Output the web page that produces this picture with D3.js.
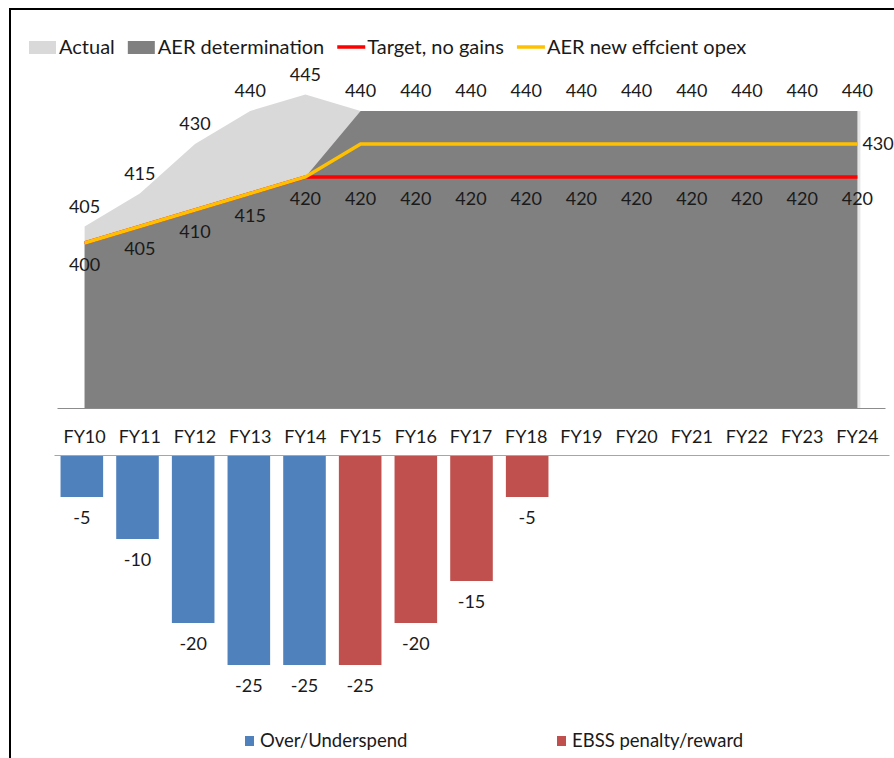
<!DOCTYPE html>
<html>
<head>
<meta charset="utf-8">
<script src="https://cdn.jsdelivr.net/npm/d3@7"></script>
<style>
  body { margin: 0; background: #fff; }
  svg { display: block; font-family: Lato, "Open Sans", sans-serif; }
</style>
</head>
<body>
<div id="chart"></div>
<script>
const years = ["FY10", "FY11", "FY12", "FY13", "FY14", "FY15", "FY16", "FY17", "FY18", "FY19", "FY20", "FY21", "FY22", "FY23", "FY24"];
const actual = [405, 415, 430, 440, 445, 440];
const aer = [400, 405, 410, 415, 420, 440, 440, 440, 440, 440, 440, 440, 440, 440, 440];
const target = [400, 405, 410, 415, 420, 420, 420, 420, 420, 420, 420, 420, 420, 420, 420];
const efficient = [400, 405, 410, 415, 420, 430, 430, 430, 430, 430, 430, 430, 430, 430, 430];
const overUnder = [-5, -10, -20, -25, -25, null, null, null, null, null, null, null, null, null, null];
const ebss = [null, null, null, null, null, -25, -20, -15, -5, null, null, null, null, null, null];

const width = 894;
const height = 758;
const svg = d3.select("#chart").append("svg").attr("width", width).attr("height", height);

// frame (only top and left edges show)
svg.append("rect").attr("x", 10).attr("y", 9).attr("width", 900).attr("height", 800)
  .attr("fill", "none").attr("stroke", "#000").attr("stroke-width", 2);

const x = d3.scaleBand().domain(years).range([57, 885]);
const cx = d => x(d) + x.bandwidth() / 2;
const y = d3.scaleLinear().domain([350, 440]).range([408, 111]);

const area = d3.area().x((d, i) => cx(years[i])).y0(y(350)).y1(d => y(d));
const line = d3.line().x((d, i) => cx(years[i])).y(d => y(d));

svg.append("path").datum(actual).attr("d", area).attr("fill", "#d9d9d9");
// faint edge shadow like the original
svg.append("path").datum(aer).attr("d", area).attr("fill", "#e6e6e6").attr("transform", "translate(3,0)");
svg.append("path").datum(aer).attr("d", area).attr("fill", "#808080");
svg.append("path").datum(target).attr("d", line).attr("fill", "none").attr("stroke", "#ff0000").attr("stroke-width", 3.5);
svg.append("path").datum(efficient).attr("d", line).attr("fill", "none").attr("stroke", "#ffc000").attr("stroke-width", 3.5);

// category axis under the area chart
const xAxis = svg.append("g").attr("transform", `translate(0,${y(350)})`)
  .call(d3.axisBottom(x).tickSize(0).tickPadding(22));
xAxis.select(".domain").attr("stroke", "#8c8c8c");
xAxis.selectAll("text").attr("font-size", 18).attr("fill", "#1a1a1a").attr("font-family", "Lato, sans-serif");

// data labels
const lbl = svg.append("g").attr("font-size", 18).attr("fill", "#1a1a1a").attr("text-anchor", "middle");
actual.forEach((v, i) => {
  if (v !== aer[i]) lbl.append("text").attr("x", cx(years[i])).attr("y", y(v) - 20).attr("dy", "0.35em").text(v);
});
aer.forEach((v, i) => {
  if (v !== target[i]) lbl.append("text").attr("x", cx(years[i])).attr("y", y(v) - 20).attr("dy", "0.35em").text(v);
});
target.forEach((v, i) => {
  lbl.append("text").attr("x", cx(years[i])).attr("y", y(v) + 22).attr("dy", "0.35em").text(v);
});
const last = efficient.length - 1;
lbl.append("text").attr("x", cx(years[last]) + 5).attr("y", y(efficient[last])).attr("dy", "0.35em")
  .attr("text-anchor", "start").text(efficient[last]);

// bar chart
const xb = d3.scaleBand().domain(years).range([54, 889]).paddingInner(0.235).paddingOuter(0.1175);
const yb = d3.scaleLinear().domain([-25, 0]).range([665, 455]);

const bars = [
  { name: "Over/Underspend", color: "#4f81bd", values: overUnder },
  { name: "EBSS penalty/reward", color: "#c0504d", values: ebss }
];

bars.forEach(s => {
  const pts = s.values.map((v, i) => ({ year: years[i], v })).filter(d => d.v !== null);
  svg.append("g").selectAll("rect").data(pts).enter().append("rect")
    .attr("x", d => xb(d.year)).attr("width", xb.bandwidth())
    .attr("y", yb(0)).attr("height", d => yb(d.v) - yb(0))
    .attr("fill", s.color);
  svg.append("g").attr("font-size", 18).attr("fill", "#1a1a1a").attr("text-anchor", "middle")
    .selectAll("text").data(pts).enter().append("text")
    .attr("x", d => xb(d.year) + xb.bandwidth() / 2).attr("y", d => yb(d.v) + 21).attr("dy", "0.35em")
    .text(d => d.v);
});

const barAxis = svg.append("g").attr("transform", `translate(0,${yb(0)})`)
  .call(d3.axisBottom(xb).tickSize(0).tickFormat(""));
barAxis.select(".domain").attr("stroke", "#a6a6a6");

// top legend
const legendTop = [
  { name: "Actual", color: "#d9d9d9", type: "box" },
  { name: "AER determination", color: "#808080", type: "box" },
  { name: "Target, no gains", color: "#ff0000", type: "line" },
  { name: "AER new effcient opex", color: "#ffc000", type: "line" }
];
let lx = 29;
legendTop.forEach(item => {
  const g = svg.append("g");
  if (item.type === "box") {
    g.append("rect").attr("x", lx).attr("y", 41).attr("width", 27).attr("height", 13).attr("fill", item.color);
  } else {
    g.append("line").attr("x1", lx).attr("x2", lx + 28).attr("y1", 47).attr("y2", 47)
      .attr("stroke", item.color).attr("stroke-width", 3.5);
  }
  const t = g.append("text").attr("x", lx + 30).attr("y", 47).attr("dy", "0.35em")
    .attr("font-size", 20).attr("fill", "#1a1a1a").text(item.name);
  lx += 30 + t.node().getComputedTextLength() + 13;
});

// bottom legend
const legendX = [245, 557];
bars.forEach((s, i) => {
  const g = svg.append("g");
  g.append("rect").attr("x", legendX[i]).attr("y", 736).attr("width", 9).attr("height", 10).attr("fill", s.color);
  g.append("text").attr("x", legendX[i] + 15).attr("y", 741).attr("dy", "0.35em")
    .attr("font-size", 18.5).attr("fill", "#1a1a1a").text(s.name);
});
</script>
</body>
</html>
